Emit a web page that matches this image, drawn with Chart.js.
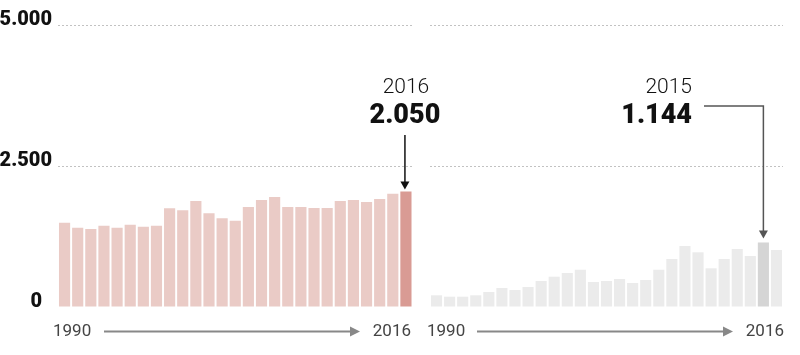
<!DOCTYPE html>
<html><head><meta charset="utf-8">
<script src="https://cdn.jsdelivr.net/npm/chart.js@4"></script>
<style>
html,body{margin:0;padding:0;background:#fff;}
#wrap{position:relative;width:800px;height:355px;overflow:hidden;}
#c1box{position:absolute;left:0;top:0;width:470px;height:355px;z-index:2;}
#c2box{position:absolute;left:420px;top:0;width:380px;height:355px;z-index:1;}
</style></head><body>
<div id="wrap"><div id="c1box"><canvas id="c1"></canvas></div><div id="c2box"><canvas id="c2"></canvas></div></div>
<script>
const years = ['1990','1991','1992','1993','1994','1995','1996','1997','1998','1999','2000','2001','2002','2003','2004','2005','2006','2007','2008','2009','2010','2011','2012','2013','2014','2015','2016'];
const leftValues = [1495,1406,1383,1441,1406,1459,1424,1441,1750,1715,1879,1661,1573,1530,1773,1897,1950,1773,1773,1755,1755,1879,1897,1862,1915,2009,2050];
const rightValues = [207,183,183,207,266,337,301,355,461,537,603,661,443,461,496,426,479,661,851,1082,970,686,851,1028,904,1144,1011];
const yTickValues = [0,2500,5000];
const yTickLabels = ['0  ','2.500','5.000'];
const leftHighlight = 26;
const rightHighlight = 25;

const fmt = v => v.toLocaleString('de-DE');

function gridColor(c){ return (c.tick && c.tick.value === 0) ? 'rgba(0,0,0,0)' : '#c2c2c2'; }

function yScale(showLabels){
  return {
    type:'linear', min:0, max:5000,
    afterBuildTicks: s => { s.ticks = yTickValues.map(v => ({value:v})); },
    afterFit: s => { s.width = showLabels ? 58 : 0; },
    grid:{color:gridColor, drawTicks:false, lineWidth:1},
    border:{display:false, dash:[2,2]},
    ticks:{display:showLabels, padding:6, labelOffset:-5, color:'#111',
      font:{family:'Roboto', size:20, weight:'900'},
      callback:(v) => yTickLabels[yTickValues.indexOf(v)]}
  };
}

function drawArrowH(ctx, x1, x2, y, color){
  ctx.strokeStyle = color; ctx.fillStyle = color; ctx.lineWidth = 2;
  ctx.beginPath(); ctx.moveTo(x1, y); ctx.lineTo(x2 - 8, y); ctx.stroke();
  ctx.beginPath(); ctx.moveTo(x2, y); ctx.lineTo(x2 - 10, y - 5); ctx.lineTo(x2 - 10, y + 5); ctx.closePath(); ctx.fill();
}
function drawArrowDown(ctx, x, y2, color){
  ctx.fillStyle = color;
  ctx.beginPath(); ctx.moveTo(x, y2); ctx.lineTo(x - 4.5, y2 - 8); ctx.lineTo(x + 4.5, y2 - 8); ctx.closePath(); ctx.fill();
}

const bottomPlugin = {
  id:'bottomAxis',
  afterDraw(chart, args, o){
    const ctx = chart.ctx, a = chart.chartArea;
    ctx.save();
    ctx.font = '17px Roboto'; ctx.fillStyle = '#444'; ctx.textBaseline = 'alphabetic';
    ctx.textAlign = 'left'; ctx.fillText(years[0], a.left + o.l1, 336);
    ctx.textAlign = 'right'; ctx.fillText(years[years.length-1], a.right + o.r1, 336);
    drawArrowH(ctx, a.left + o.as, a.right + o.ae, 331.5, '#888');
    ctx.restore();
  }
};

const leftAnnot = {
  id:'leftAnnot',
  afterDraw(chart){
    const ctx = chart.ctx, xs = chart.scales.x, ys = chart.scales.y;
    const x = xs.getPixelForValue(leftHighlight);
    const yTop = ys.getPixelForValue(leftValues[leftHighlight]);
    ctx.save();
    ctx.fillStyle = '#111'; ctx.textAlign = 'center'; ctx.textBaseline = 'alphabetic';
    ctx.font = '300 21px Roboto'; ctx.fillText(years[leftHighlight], x, 93);
    ctx.font = '900 27px Roboto'; ctx.fillText(fmt(leftValues[leftHighlight]), x - 1, 123);
    ctx.strokeStyle = '#111'; ctx.lineWidth = 1.5;
    ctx.beginPath(); ctx.moveTo(x - 1, 135); ctx.lineTo(x - 1, yTop - 8); ctx.stroke();
    drawArrowDown(ctx, x - 1, yTop - 2, '#111');
    ctx.restore();
  }
};

const rightAnnot = {
  id:'rightAnnot',
  afterDraw(chart){
    const ctx = chart.ctx, xs = chart.scales.x, ys = chart.scales.y;
    const x = xs.getPixelForValue(rightHighlight);
    const yTop = ys.getPixelForValue(rightValues[rightHighlight]);
    ctx.save();
    ctx.fillStyle = '#111'; ctx.textAlign = 'right'; ctx.textBaseline = 'alphabetic';
    ctx.font = '300 21px Roboto'; ctx.fillText(years[rightHighlight], 272, 93);
    ctx.font = '900 27px Roboto'; ctx.fillText(fmt(rightValues[rightHighlight]), 272, 123);
    ctx.strokeStyle = '#555'; ctx.lineWidth = 1.5;
    ctx.beginPath(); ctx.moveTo(284, 106); ctx.lineTo(x, 106); ctx.lineTo(x, yTop - 10); ctx.stroke();
    drawArrowDown(ctx, x, yTop - 4, '#555');
    ctx.restore();
  }
};

function makeChart(id, values, hl, base, hi, padding, showLabels, annot, bottomOpts){
  return new Chart(document.getElementById(id), {
    type:'bar',
    data:{labels:years, datasets:[{data:values,
      backgroundColor: values.map((v,i) => i === hl ? hi : base),
      borderWidth:0, categoryPercentage:1, barPercentage:0.85}]},
    options:{
      responsive:true, maintainAspectRatio:false, animation:false,
      layout:{padding:padding},
      plugins:{legend:{display:false}, tooltip:{enabled:false}, bottomAxis:bottomOpts},
      scales:{
        x:{type:'category', display:false},
        y:yScale(showLabels)
      }
    },
    plugins:[annot, bottomPlugin]
  });
}

makeChart('c1', leftValues, leftHighlight, '#eacbc6', '#d99b94',
  {left:0, right:57.5, top:25, bottom:48}, true, leftAnnot,
  {l1:-5, r1:-1.5, as:46, ae:-52.5});
makeChart('c2', rightValues, rightHighlight, '#ebebeb', '#d5d5d5',
  {left:10, right:17, top:25, bottom:48}, false, rightAnnot,
  {l1:-3, r1:1, as:47, ae:-50});
</script>
</body></html>
